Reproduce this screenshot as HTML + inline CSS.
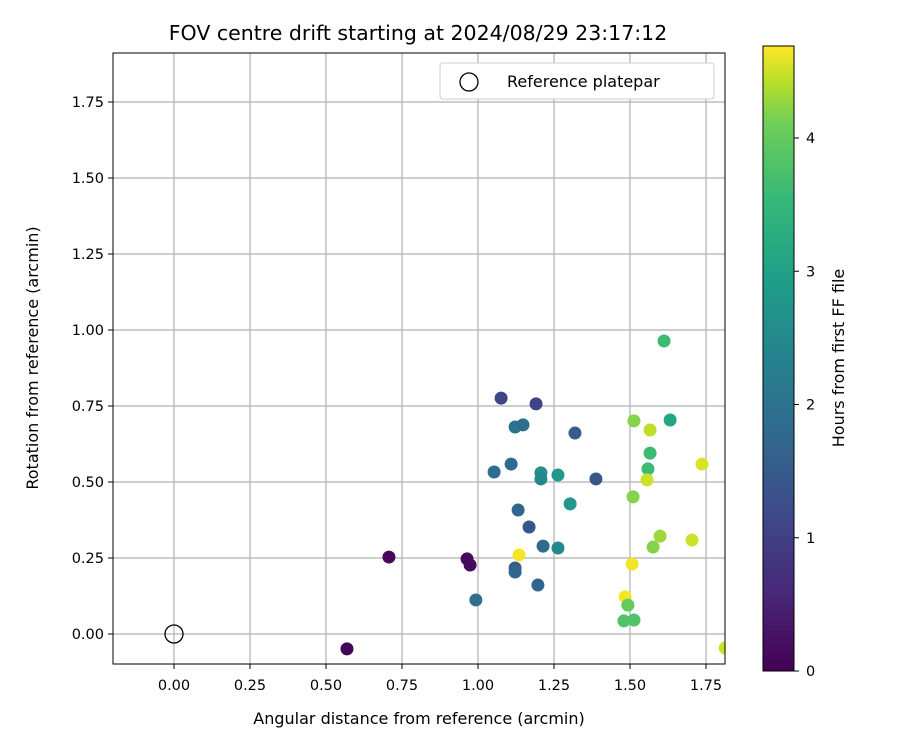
<!DOCTYPE html>
<html><head><meta charset="utf-8"><style>
body{margin:0;background:#fff;}
svg{display:block;font-family:"DejaVu Sans","Liberation Sans",sans-serif;}
</style></head><body>
<svg id="chart" width="900" height="750" xmlns="http://www.w3.org/2000/svg">
<rect width="900" height="750" fill="#fff"/>
<g id="grid"></g>
<g id="pts"></g>
<rect x="113" y="53" width="612" height="611" fill="none" stroke="#000" stroke-width="1"/>
<g id="ticks"></g>
<text x="418" y="40" font-size="20.5" text-anchor="middle">FOV centre drift starting at 2024/08/29 23:17:12</text>
<text x="419" y="724" font-size="16" text-anchor="middle">Angular distance from reference (arcmin)</text>
<text transform="translate(38,358) rotate(-90)" font-size="16" text-anchor="middle">Rotation from reference (arcmin)</text>
<g>
<rect x="440" y="63" width="274" height="36" rx="3" fill="#fff" stroke="#ccc"/>
<circle cx="469" cy="82" r="9" fill="none" stroke="#000" stroke-width="1.3"/>
<text x="507" y="87" font-size="16">Reference platepar</text>
</g>
<defs><linearGradient id="vir" x1="0" y1="1" x2="0" y2="0">
<stop offset="0" stop-color="#440154"/><stop offset="0.125" stop-color="#482878"/><stop offset="0.25" stop-color="#3e4a89"/><stop offset="0.375" stop-color="#31688e"/><stop offset="0.5" stop-color="#26828e"/><stop offset="0.625" stop-color="#1f9e89"/><stop offset="0.75" stop-color="#35b779"/><stop offset="0.875" stop-color="#6ece58"/><stop offset="0.94" stop-color="#b5de2b"/><stop offset="1" stop-color="#fde725"/>
</linearGradient></defs>
<rect x="763" y="46" width="31" height="625" fill="url(#vir)" stroke="#000" stroke-width="1"/>
<g id="cbt"></g>
<text transform="translate(844,358) rotate(-90)" font-size="16" text-anchor="middle">Hours from first FF file</text>
</svg>
<script>
const xVals=[0.569,0.707,0.964,0.974,0.993,1.076,1.191,1.053,1.109,1.122,1.148,1.132,1.168,1.122,1.122,1.135,1.214,1.197,1.207,1.207,1.263,1.263,1.303,1.319,1.388,1.513,1.566,1.566,1.559,1.556,1.510,1.599,1.576,1.507,1.484,1.493,1.480,1.513,1.612,1.632,1.704,1.737,1.813];
const yVals=[-0.049,0.253,0.247,0.227,0.112,0.776,0.757,0.533,0.559,0.681,0.688,0.408,0.352,0.217,0.204,0.260,0.289,0.161,0.530,0.510,0.523,0.283,0.428,0.661,0.510,0.701,0.671,0.595,0.543,0.507,0.451,0.322,0.286,0.230,0.122,0.095,0.043,0.046,0.964,0.704,0.309,0.559,-0.046];
const hours=[0.05,0.1,0.15,0.15,1.9,1.1,1.1,1.9,1.8,2.0,1.9,1.7,1.4,1.5,1.7,4.65,1.8,1.7,2.6,2.5,2.8,2.5,2.8,1.5,1.4,4.2,4.45,3.6,3.6,4.5,4.2,4.3,4.2,4.65,4.65,4.0,3.8,3.8,3.6,3.1,4.5,4.55,4.5];
const xTicks=[0,0.25,0.5,0.75,1,1.25,1.5,1.75];
const yTicks=[0,0.25,0.5,0.75,1,1.25,1.5,1.75];
const cTicks=[0,1,2,3,4];
const X=v=>174+v*304, Y=v=>634-v*304, C=h=>671-h*133.25;
const stops=[[68,1,84],[72,40,120],[62,74,137],[49,104,142],[38,130,142],[31,158,137],[53,183,121],[110,206,88],[181,222,43],[253,231,37]];
const pos=[0,.125,.25,.375,.5,.625,.75,.875,.94,1];
function vir(t){t=Math.max(0,Math.min(1,t));let i=0;while(i<pos.length-2&&t>pos[i+1])i++;const f=(t-pos[i])/(pos[i+1]-pos[i]);const c=stops[i].map((a,k)=>Math.round(a+(stops[i+1][k]-a)*f));return `rgb(${c})`;}
const NS="http://www.w3.org/2000/svg";
const mk=(p,t,a)=>{const e=document.createElementNS(NS,t);for(const k in a)e.setAttribute(k,a[k]);document.getElementById(p).appendChild(e);return e;};
xTicks.forEach(v=>{
 const l=mk('grid','line',{x1:X(v),x2:X(v),y1:53,y2:664,stroke:'#b0b0b0','stroke-width':1.2});
 
 
 const tk=mk('ticks','line',{x1:X(v),x2:X(v),y1:664,y2:669,stroke:'#000'});
 
 
 const t=mk('ticks','text',{x:X(v),y:690,'font-size':14.5,'text-anchor':'middle'});t.textContent=v.toFixed(2);
 
 
});
yTicks.forEach(v=>{
 const l=mk('grid','line',{x1:113,x2:725,y1:Y(v),y2:Y(v),stroke:'#b0b0b0','stroke-width':1.2});
 
 
 const tk=mk('ticks','line',{x1:108,x2:113,y1:Y(v),y2:Y(v),stroke:'#000'});
 
 
 const t=mk('ticks','text',{x:104,y:Y(v)+5,'font-size':14.5,'text-anchor':'end'});t.textContent=v.toFixed(2);
 
 
});
cTicks.forEach(v=>{
 const tk=mk('cbt','line',{x1:794,x2:799,y1:C(v),y2:C(v),stroke:'#000'});
 
 
 const t=mk('cbt','text',{x:806,y:C(v)+5,'font-size':14.5});t.textContent=v;
 
 
});
const cp=mk('pts','clipPath',{id:'clp'});
const r=document.createElementNS(NS,'rect');r.setAttribute('x',113);r.setAttribute('y',53);r.setAttribute('width',612);r.setAttribute('height',611);cp.appendChild(r);
document.getElementById('pts').setAttribute('clip-path','url(#clp)');
xVals.forEach((v,i)=>{
 const c=mk('pts','circle',{cx:X(v),cy:Y(yVals[i]),r:6.5,fill:vir(hours[i]/4.69)});
 
 
});
const ref=mk('pts','circle',{cx:X(0),cy:Y(0),r:9,fill:'none',stroke:'#000','stroke-width':1.3});


</script>
</body></html>
